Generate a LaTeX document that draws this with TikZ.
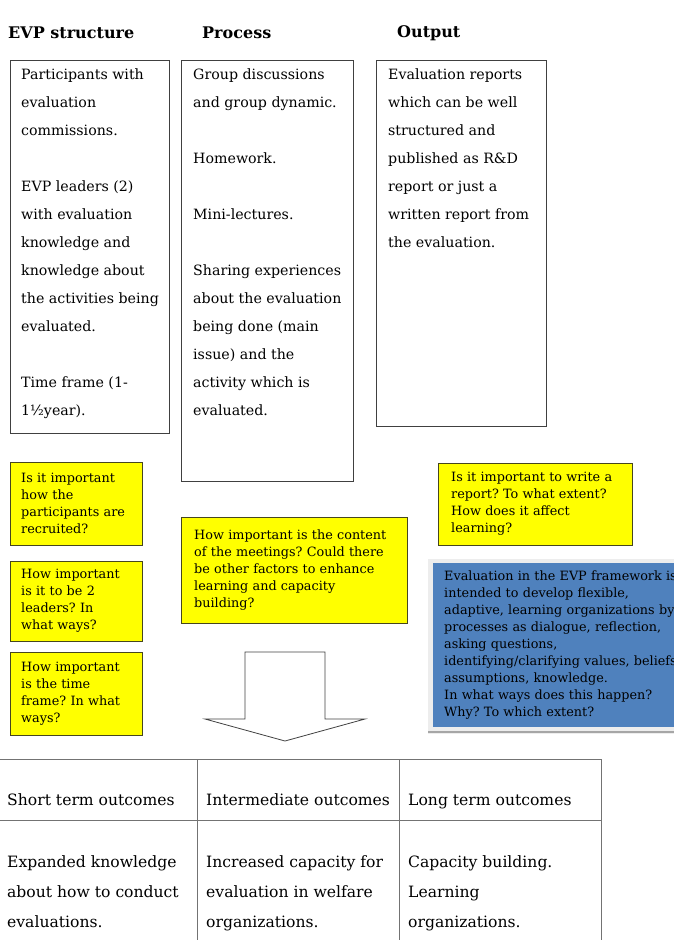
\documentclass[tikz,border=0pt]{standalone}
\usepackage{fontspec}
\setmainfont{DejaVu Serif}
\usetikzlibrary{positioning}
\definecolor{qyellow}{RGB}{255,255,0}
\definecolor{qborder}{RGB}{70,70,30}
\definecolor{evpblue}{RGB}{79,129,189}

\begin{document}
\frenchspacing
\begin{tikzpicture}[x=1pt,y=-1pt,
  heading/.style={anchor=west,inner sep=0,font=\fontsize{16}{20}\selectfont\bfseries},
  colbox/.style={draw=black!75,line width=0.8pt,anchor=north west,inner sep=0,minimum width=#1},
  coltext/.style={anchor=north west,inner sep=0,align=left,font=\fontsize{14.2}{28}\selectfont},
  quest/.style={draw=qborder,fill=qyellow,anchor=north west,align=left,inner xsep=11pt,inner ysep=0,
    text width=#1,font=\fontsize{12.8}{17}\selectfont},
  cell/.style={anchor=north west,inner sep=0,align=left,font=\fontsize{15.6}{30}\selectfont}]
\useasboundingbox (0,0) rectangle (674,940);
\clip (0,0) rectangle (674,940);

% headings
\node[heading] (hstruct) at (8,33) {EVP structure};
\node[heading] (hproc) at (202,33) {Process};
\node[heading] (hout) at (397,33) {Output};

% the three columns
\node[colbox=159,minimum height=373] (structbox) at (10,60) {};
\node[colbox=172,minimum height=421] (procbox) at (181,60) {};
\node[colbox=170,minimum height=366] (outbox) at (376,60) {};
\node[coltext] (structtext) at (21,69) {Participants with\\evaluation\\commissions.\\[28pt]
  EVP leaders (2)\\with evaluation\\knowledge and\\knowledge about\\the activities being\\evaluated.\\[28pt]
  Time frame (1-\\1\textonehalf year).};
\node[coltext] (proctext) at (193,69) {Group discussions\\and group dynamic.\\[28pt]
  Homework.\\[28pt]Mini-lectures.\\[28pt]
  Sharing experiences\\about the evaluation\\being done (main\\issue) and the\\activity which is\\evaluated.};
\node[coltext] (outtext) at (388,69) {Evaluation reports\\which can be well\\structured and\\published as R\&D\\report or just a\\written report from\\the evaluation.};

% questions
\node[quest=110,minimum height=83] (qrecruit) at (10,462) {Is it important\\how the\\participants are\\recruited?};
\node[quest=110,minimum height=80] (qleaders) at (10,561) {How important\\is it to be 2\\leaders? In\\what ways?};
\node[quest=110,minimum height=83] (qtime) at (10,652) {How important\\is the time\\frame? In what\\ways?};
\node[quest=200,minimum height=106,inner xsep=13pt] (qcontent) at (181,517) {How important is the content\\of the meetings? Could there\\be other factors to enhance\\learning and capacity\\building?};
\node[quest=168,minimum height=82,inner xsep=13pt] (qreport) at (438,463) {Is it important to write a\\report? To what extent?\\How does it affect\\learning?};

% blue box with its light frame and shadow line
\fill[black!7] (428,559) rectangle (690,734);
\draw[black!35,line width=2pt] (428,732) -- (690,732);
\node[quest=290,fill=evpblue,draw=none,minimum height=164] (evpnote) at (433,563)
  {Evaluation in the EVP framework is\\intended to develop flexible,\\adaptive, learning organizations by\\processes as dialogue, reflection,\\asking questions,\\identifying/clarifying values, beliefs,\\assumptions, knowledge.\\In what ways does this happen?\\Why? To which extent?};

% big arrow
\draw[black!75,line width=0.8pt] (245,652) -- (325,652) -- (325,719) -- (365,719) -- (285,741)
  -- (205,719) -- (245,719) -- cycle;

% outcomes table
\draw[black!55,line width=0.8pt] (0,759) -- (601,759) (0,820) -- (601,820);
\draw[black!55,line width=0.8pt] (197,759) -- (197,940) (399,759) -- (399,940) (601,759) -- (601,940);
\node[cell] (shorthead) at (7,793.5) {Short term outcomes};
\node[cell] (midhead) at (206,793.5) {Intermediate outcomes};
\node[cell] (longhead) at (408,793.5) {Long term outcomes};
\node[cell] (shorttext) at (7,855.5) {Expanded knowledge\\about how to conduct\\evaluations.};
\node[cell] (midtext) at (206,855.5) {Increased capacity for\\evaluation in welfare\\organizations.};
\node[cell] (longtext) at (408,855.5) {Capacity building.\\Learning\\organizations.};
\end{tikzpicture}
\end{document}
